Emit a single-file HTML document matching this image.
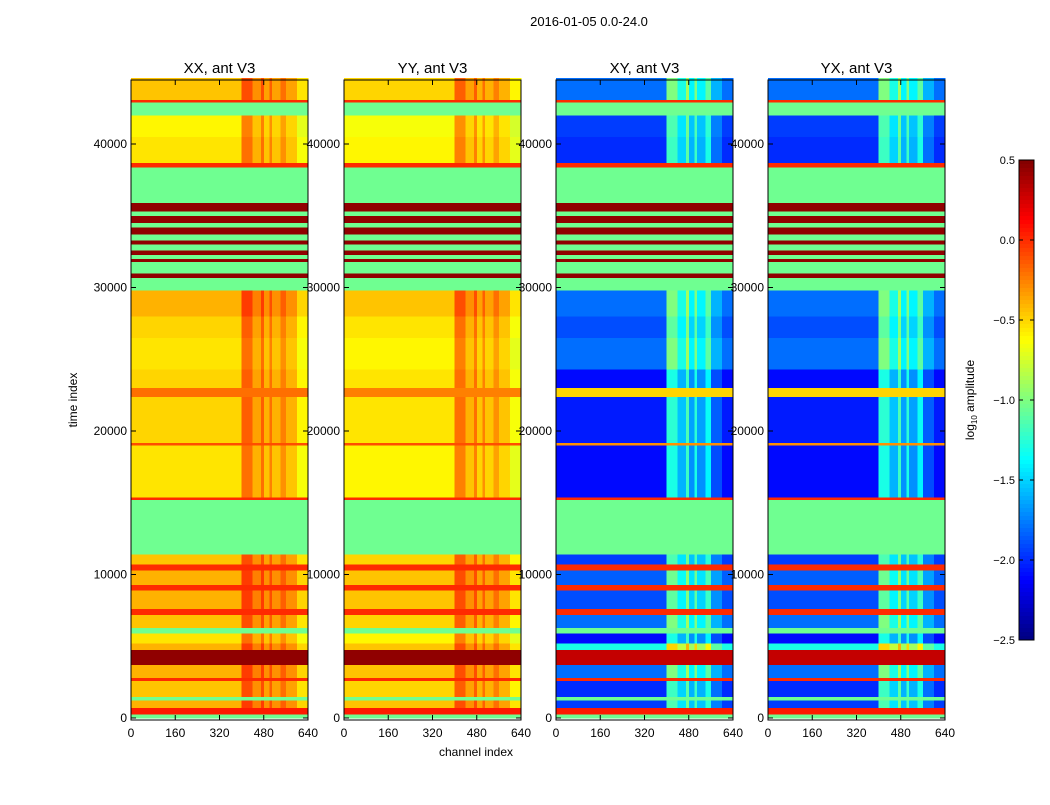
<!DOCTYPE html>
<html><head><meta charset="utf-8"><style>
body{margin:0;background:#fff;}
svg{font-family:"Liberation Sans","DejaVu Sans",sans-serif;}
</style></head><body>
<svg id="c" width="1050" height="800" xmlns="http://www.w3.org/2000/svg"></svg>
<script>
// time bands: start, end, type ('f' flagged, 'r' red line, 'd' dark red, 'n' normal)
const bandStart=[0,250,700,1250,1500,2600,2800,3700,4750,5200,5900,6300,7200,7600,8900,9300,10300,10700,11400,15200,15400,19000,19200,22400,23000,24300,26500,28000,29800,30700,31000,31800,32000,32300,32600,33000,33300,33700,34200,34500,35000,35300,35900,38400,38700,40500,42000,42900,43100];
const bandEnd=[250,700,1250,1500,2600,2800,3700,4750,5200,5900,6300,7200,7600,8900,9300,10300,10700,11400,15200,15400,19000,19200,22400,23000,24300,26500,28000,29800,30700,31000,31800,32000,32300,32600,33000,33300,33700,34200,34500,35000,35300,35900,38400,38700,40500,42000,42900,43100,44600];
const xxVals=[-1.05,0.05,-0.4,-1.05,-0.45,0.0,-0.4,0.45,-0.4,-0.55,-1.05,-0.45,0.0,-0.4,0.0,-0.4,0.0,-0.45,-1.05,0.0,-0.55,-0.1,-0.5,-0.2,-0.5,-0.55,-0.5,-0.4,-1.05,0.45,-1.05,0.45,-1.05,0.45,-1.05,0.45,-1.05,0.45,-1.05,0.45,-1.05,0.45,-1.05,0.0,-0.55,-0.6,-1.05,0.0,-0.45];
const yyVals=[-1.05,0.05,-0.45,-1.05,-0.5,0.0,-0.45,0.45,-0.45,-0.6,-1.05,-0.5,0.0,-0.45,0.0,-0.45,0.0,-0.5,-1.05,0.0,-0.6,-0.1,-0.55,-0.25,-0.55,-0.6,-0.55,-0.45,-1.05,0.45,-1.05,0.45,-1.05,0.45,-1.05,0.45,-1.05,0.45,-1.05,0.45,-1.05,0.45,-1.05,0.0,-0.6,-0.65,-1.05,0.0,-0.5];
const xyVals=[-1.05,0.05,-1.95,-1.05,-2.0,0.0,-1.8,0.3,-1.3,-2.1,-1.05,-1.8,0.0,-1.9,0.0,-1.85,0.0,-1.95,-1.05,0.0,-2.1,-0.3,-2.05,-0.5,-2.1,-1.8,-1.9,-1.8,-1.05,0.45,-1.05,0.45,-1.05,0.45,-1.05,0.45,-1.05,0.45,-1.05,0.45,-1.05,0.45,-1.05,0.0,-2.0,-1.95,-1.05,0.0,-1.8];
const yxVals=xyVals.slice();
const bandType=['f','r','n','f','n','r','n','d','n','n','f','n','r','n','r','n','r','n','f','r','n','r','n','r','n','n','n','n','f','d','f','d','f','d','f','d','f','d','f','d','f','d','f','r','n','n','f','r','n'];
// channel segments with RFI boost
const chEdges=[0,400,440,470,480,500,510,540,560,600,640];
const chBoostAuto=[0,0.35,0.15,0.35,0.1,0.3,0.1,0.25,0.1,-0.1];
const chBoostCross=[0,0.8,0.5,0.9,0.4,0.8,0.4,0.7,0.2,0];
const panelTitles=['XX, ant V3','YY, ant V3','XY, ant V3','YX, ant V3'];
const xTicks=[0,160,320,480,640];
const yTicks=[0,10000,20000,30000,40000];
const cbTicks=[0.5,0.0,-0.5,-1.0,-1.5,-2.0,-2.5];

const NS='http://www.w3.org/2000/svg';
const svg=document.getElementById('c');
function mk(tag,attrs,parent){const e=document.createElementNS(NS,tag);for(const k in attrs)e.setAttribute(k,attrs[k]);(parent||svg).appendChild(e);return e;}
function jet(v){let t=(v+2.5)/3;t=Math.max(0,Math.min(1,t));
 const r=Math.max(0,Math.min(1,1.5-Math.abs(4*t-3))),g=Math.max(0,Math.min(1,1.5-Math.abs(4*t-2))),b=Math.max(0,Math.min(1,1.5-Math.abs(4*t-1)));
 return `rgb(${Math.round(r*255)},${Math.round(g*255)},${Math.round(b*255)})`;}
const Y0=720,Y1=80,T0=-140,T1=44460;
function yS(t){return Y0-(t-T0)/(T1-T0)*(Y0-Y1);}
const panelX=[131,344,556,768],PW=177;
const vals=[xxVals,yyVals,xyVals,yxVals];
const t=mk('text',{x:589,y:26,'font-size':13,'text-anchor':'middle'});t.textContent='2016-01-05 0.0-24.0';


panelX.forEach((px,p)=>{
 const g=mk('g',{});
 
 
 const xS=c=>px+c/640*PW;
 const boost=p<2?chBoostAuto:chBoostCross;
 for(let i=0;i<bandStart.length;i++){
  const ya=yS(bandEnd[i]),yb=yS(Math.max(bandStart[i],T0));
  for(let s=0;s<chEdges.length-1;s++){
   let v=vals[p][i]; if(bandType[i]==='n')v+=boost[s];
   const r=mk('rect',{x:xS(chEdges[s]),y:ya,width:xS(chEdges[s+1])-xS(chEdges[s])+0.3,height:yb-ya+0.3,fill:jet(v),'shape-rendering':'crispEdges'},g);
   
   
  }
 }
 mk('rect',{x:px,y:80,width:PW,height:640,fill:'none',stroke:'#000','stroke-width':1},g);
 const tt=mk('text',{x:px+PW/2,y:73,'font-size':15,'text-anchor':'middle'},g);tt.textContent=panelTitles[p];
 
 
 xTicks.forEach(v=>{const x=xS(v);mk('line',{x1:x,x2:x,y1:720,y2:715,stroke:'#000'},g);mk('line',{x1:x,x2:x,y1:80,y2:85,stroke:'#000'},g);
  const l=mk('text',{x:x,y:737,'font-size':12,'text-anchor':'middle'},g);l.textContent=v;
  
  });
 yTicks.forEach(v=>{const y=yS(v);mk('line',{x1:px,x2:px+5,y1:y,y2:y,stroke:'#000'},g);mk('line',{x1:px+PW,x2:px+PW-5,y1:y,y2:y,stroke:'#000'},g);
  const l=mk('text',{x:px-4,y:y+4,'font-size':12,'text-anchor':'end'},g);l.textContent=v;
  
  });
});
let a=mk('text',{x:476,y:756,'font-size':12,'text-anchor':'middle'});a.textContent='channel index';


a=mk('text',{x:0,y:0,'font-size':12,'text-anchor':'middle',transform:'translate(77,400) rotate(-90)'});a.textContent='time index';


// colorbar
const cb=mk('g',{});


const CT=160,CB=640,CX=1019,CW=15;
for(let i=0;i<120;i++){const v=0.5-3*(i+0.5)/120;mk('rect',{x:CX,y:CT+i*4,width:CW,height:4.3,fill:jet(v),'shape-rendering':'crispEdges'},cb);}
mk('rect',{x:CX,y:CT,width:CW,height:CB-CT,fill:'none',stroke:'#000'},cb);
cbTicks.forEach(v=>{const y=CT+(0.5-v)/3*(CB-CT);
 mk('line',{x1:CX+CW-4,x2:CX+CW,y1:y,y2:y,stroke:'#000'},cb);
 mk('line',{x1:CX,x2:CX+4,y1:y,y2:y,stroke:'#000'},cb);
 const l=mk('text',{x:CX-4,y:y+4,'font-size':11,'text-anchor':'end'},cb);l.textContent=v.toFixed(1).replace('-','\u2212');
 
 });
a=mk('text',{x:0,y:0,'font-size':12,'text-anchor':'middle',transform:'translate(974,400) rotate(-90)'});
a.innerHTML='log<tspan font-size="8" dy="3">10</tspan><tspan dy="-3"> amplitude</tspan>';


</script>
</body></html>
